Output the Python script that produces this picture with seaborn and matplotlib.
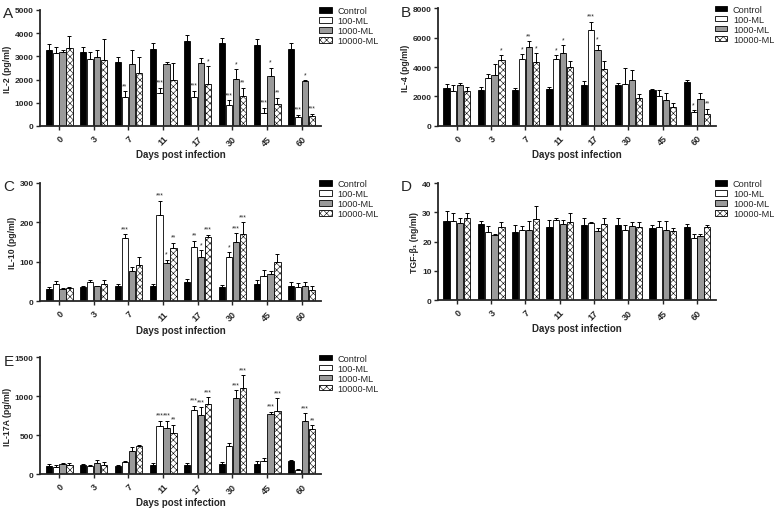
import pandas as pd
import seaborn as sns
import matplotlib.pyplot as plt

days = ["0", "3", "7", "11", "17", "30", "45", "60"]
groups = ["Control", "100-ML", "1000-ML", "10000-ML"]
colors = ["black", "white", "#9a9a9a", "white"]

# one row per group (Control, 100-ML, 1000-ML, 10000-ML), one column per day
il2_mean = [
    [3280, 3170, 2760, 3305, 3660, 3560, 3470, 3330],
    [3140, 2880, 1265, 1410, 1265, 890, 550, 380],
    [3210, 2980, 2660, 2650, 2730, 2010, 2160, 1920],
    [3350, 2840, 2270, 1980, 1790, 1295, 935, 420],
]
il2_err = [
    [270, 245, 230, 260, 260, 245, 260, 250],
    [245, 320, 230, 245, 245, 215, 240, 100],
    [60, 300, 600, 100, 215, 430, 350, 60],
    [530, 900, 720, 720, 790, 360, 290, 100],
]
il2_sig = [
    ["", "", "", "", "", "", "", ""],
    ["", "", "**", "***", "***", "***", "***", "***"],
    ["", "", "", "", "", "*", "*", "*"],
    ["", "", "", "", "*", "**", "**", "***"],
]

il4_mean = [
    [2545, 2430, 2450, 2500, 2795, 2780, 2450, 2950],
    [2390, 3250, 4540, 4540, 6515, 2820, 2000, 950],
    [2770, 3450, 5340, 4930, 5155, 3120, 1720, 1800],
    [2390, 4500, 4320, 3975, 3860, 1885, 1250, 800],
]
il4_err = [
    [290, 180, 120, 160, 225, 160, 80, 150],
    [380, 250, 340, 275, 565, 1100, 400, 100],
    [115, 730, 410, 565, 360, 650, 500, 400],
    [220, 315, 610, 455, 525, 275, 300, 350],
]
il4_sig = [
    ["", "", "", "", "", "", "", ""],
    ["", "", "*", "*", "***", "", "", "*"],
    ["", "", "**", "*", "*", "", "", ""],
    ["", "*", "*", "", "", "", "", "**"],
]

il10_mean = [
    [32, 35, 38, 38, 48, 37, 44, 38],
    [45, 50, 160, 219, 137, 112, 63, 37],
    [32, 38, 78, 96, 112, 150, 69, 38],
    [33, 45, 92, 134, 162, 171, 100, 28],
]
il10_err = [
    [5, 3, 5, 6, 9, 5, 10, 12],
    [7, 3, 10, 36, 17, 12, 16, 10],
    [2, 2, 8, 9, 18, 22, 8, 10],
    [3, 8, 20, 14, 7, 29, 20, 12],
]
il10_sig = [
    ["", "", "", "", "", "", "", ""],
    ["", "", "***", "***", "**", "*", "", ""],
    ["", "", "", "*", "*", "***", "", ""],
    ["", "", "", "**", "***", "***", "", ""],
]

tgf_mean = [
    [26.9, 26.0, 23.1, 25.1, 25.6, 25.7, 24.6, 25.0],
    [26.9, 23.1, 23.9, 27.4, 26.2, 23.9, 25.0, 21.3],
    [26.2, 22.3, 24.0, 26.0, 23.5, 25.2, 23.9, 21.8],
    [28.0, 24.8, 27.7, 26.5, 26.0, 24.8, 23.5, 24.8],
]
tgf_err = [
    [3.7, 1.1, 2.5, 2.3, 2.6, 2.5, 1.2, 1.0],
    [2.9, 2.1, 1.5, 0.6, 0.6, 1.7, 1.9, 1.2],
    [1.7, 0.3, 3.1, 1.3, 1.0, 1.6, 3.0, 0.8],
    [1.8, 2.0, 4.5, 3.1, 2.2, 2.0, 1.0, 0.8],
]

il17_mean = [
    [105, 110, 105, 120, 115, 130, 125, 165],
    [95, 100, 150, 621, 827, 360, 163, 50],
    [130, 145, 300, 587, 758, 975, 771, 680],
    [120, 110, 360, 527, 900, 1100, 806, 580],
]
il17_err = [
    [20, 20, 10, 20, 30, 20, 40, 20],
    [25, 15, 20, 64, 51, 40, 38, 10],
    [10, 30, 45, 98, 100, 100, 30, 100],
    [20, 40, 15, 107, 86, 170, 170, 50],
]
il17_sig = [
    ["", "", "", "", "", "", "", ""],
    ["", "", "", "***", "***", "", "", ""],
    ["", "", "", "***", "***", "***", "***", "***"],
    ["", "", "", "**", "***", "***", "***", "**"],
]


def long_table(means):
    rows = []
    for g, vals in zip(groups, means):
        for d, v in zip(days, vals):
            rows.append({"day": d, "group": g, "value": v})
    return pd.DataFrame(rows)


def draw_panel(ax, means, errs, sig, ylabel, yticks, letter):
    df = long_table(means)
    sns.barplot(data=df, x="day", y="value", hue="group", order=days,
                hue_order=groups, palette=colors, width=0.8, gap=0.1,
                edgecolor="black", linewidth=0.6, errorbar=None,
                legend=False, ax=ax)
    bars = list(ax.containers)
    for gi, cont in enumerate(bars):
        xs = [p.get_x() + p.get_width() / 2 for p in cont.patches]
        hs = [p.get_height() for p in cont.patches]
        if gi == 3:
            for p in cont.patches:
                p.set_hatch("xxxxx")
        ax.errorbar(xs, hs, yerr=[[0] * len(hs), errs[gi]], fmt="none",
                    ecolor="black", elinewidth=0.7, capsize=1.6,
                    capthick=0.7, zorder=3)
        if sig is not None:
            for x, h, e, s in zip(xs, hs, errs[gi], sig[gi]):
                if s:
                    ax.annotate(s, (x, h + e), xytext=(0, 1.5),
                                textcoords="offset points", ha="center",
                                va="bottom", fontsize=4.8)
    ax.set_xlim(-0.55, 7.55)
    ax.set_ylim(yticks[0], yticks[-1])
    ax.set_yticks(yticks)
    ax.set_yticklabels([str(t) for t in yticks], fontweight="bold", fontsize=6)
    ax.set_xticks(range(len(days)))
    ax.set_xticklabels(days, rotation=45, ha="right", rotation_mode="anchor",
                       fontweight="bold", fontsize=6.5)
    ax.set_xlabel("Days post infection", fontweight="bold", fontsize=7,
                  labelpad=1.5)
    ax.set_ylabel(ylabel, fontweight="bold", fontsize=6.3, labelpad=2)
    ax.tick_params(axis="both", direction="out", length=3, width=1, pad=1.5)
    ax.tick_params(axis="x", pad=2.5)
    for side in ["left", "bottom"]:
        ax.spines[side].set_linewidth(1.3)
    sns.despine(ax=ax)
    ax.legend(bars, groups, loc="upper left",
              bbox_to_anchor=(0.995, 1.03), frameon=False, fontsize=6.6,
              handlelength=1.4, handleheight=0.55, handletextpad=0.6,
              labelspacing=0.1, borderaxespad=0, borderpad=0)
    bb = ax.get_position()
    fig.text(bb.x0 - 0.047, bb.y1 + 0.007, letter, fontsize=11, va="top",
             ha="left")


sns.set_style("ticks")
plt.rcParams["font.family"] = ["Liberation Sans", "DejaVu Sans"]
plt.rcParams["hatch.linewidth"] = 0.4

fig = plt.figure(figsize=(7.82, 5.10), dpi=100)
ax_a = fig.add_axes([0.0512, 0.751, 0.359, 0.2275])
ax_b = fig.add_axes([0.560, 0.7516, 0.3555, 0.230])
ax_c = fig.add_axes([0.0512, 0.4073, 0.359, 0.232])
ax_d = fig.add_axes([0.560, 0.4098, 0.3555, 0.2294])
ax_e = fig.add_axes([0.0512, 0.0686, 0.359, 0.2288])

draw_panel(ax_a, il2_mean, il2_err, il2_sig, "IL-2 (pg/ml)",
           [0, 1000, 2000, 3000, 4000, 5000], "A")
draw_panel(ax_b, il4_mean, il4_err, il4_sig, "IL-4 (pg/ml)",
           [0, 2000, 4000, 6000, 8000], "B")
draw_panel(ax_c, il10_mean, il10_err, il10_sig, "IL-10 (pg/ml)",
           [0, 100, 200, 300], "C")
draw_panel(ax_d, tgf_mean, tgf_err, None, "TGF-β\u2081 (ng/ml)",
           [0, 10, 20, 30, 40], "D")
draw_panel(ax_e, il17_mean, il17_err, il17_sig, "IL-17A (pg/ml)",
           [0, 500, 1000, 1500], "E")

fig.savefig("out.png", dpi=100)
plt.close(fig)
